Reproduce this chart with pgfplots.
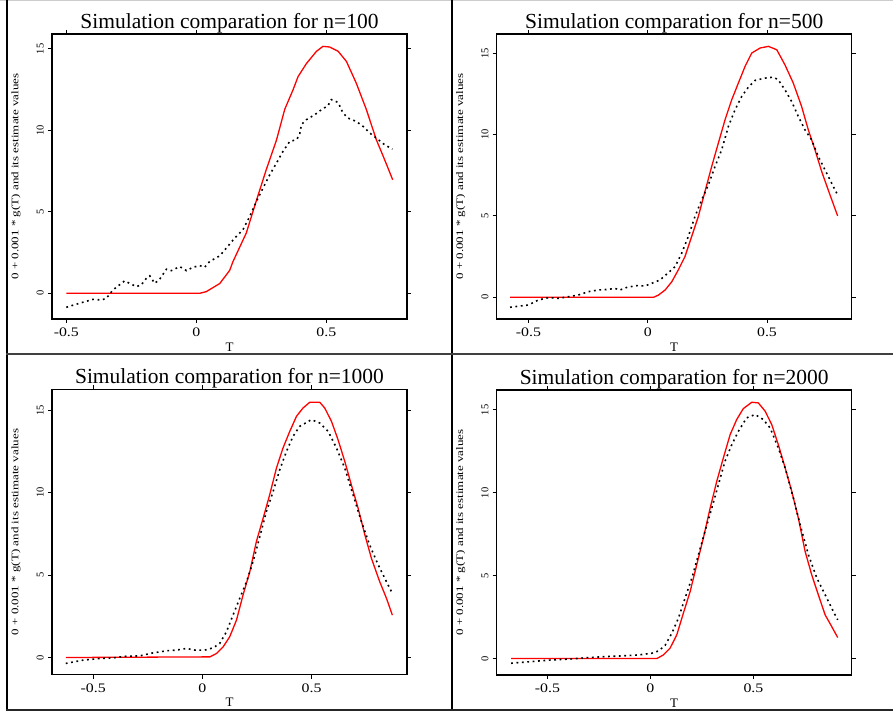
\documentclass[border=0pt]{standalone}
\usepackage{fontspec}
\setmainfont{Liberation Serif}
\newfontfamily\xtickfont[FakeStretch=1.22]{Liberation Serif}
\newfontfamily\ylabfont[FakeStretch=1.3]{Liberation Serif}
\usepackage{pgfplots}
\pgfplotsset{compat=1.18}

\pgfplotsset{
  rplot/.style={
    scale only axis, width=355bp, height=285bp,
    axis line style={line width=1.4bp},
    every tick/.style={black, line width=1bp},
    tick align=outside, major tick length=4bp,
    xtick pos=both, ytick pos=both,
    xticklabel pos=bottom, yticklabel pos=left,
    xtick={-0.5,0,0.5}, xticklabels={{-0.5},{0},{0.5}},
    ytick={0,5,10,15}, yticklabels={0,5,10,15},
    xticklabel style={font=\xtickfont\fontsize{13bp}{13bp}\selectfont, anchor=north, inner sep=0pt},
    yticklabel style={font=\fontsize{10.5bp}{10.5bp}\selectfont, rotate=90, anchor=south, inner sep=0pt},
    xticklabel shift=5bp, yticklabel shift=4bp,
    every axis title shift=0pt,
    title style={at={(axis description cs:0.5,1.02)}, anchor=base, yshift=0pt, inner sep=0pt, font=\fontsize{21.5bp}{21.5bp}\selectfont},
    xlabel={T},
    xlabel style={at={(axis description cs:0.5,-0.1123)}, anchor=base, font=\fontsize{13bp}{13bp}\selectfont},
    ylabel={0 + 0.001 * g(T) and its estimate values},
    ylabel style={at={(axis description cs:-0.0944,0.5)}, rotate=0, anchor=base, font=\ylabfont\fontsize{10bp}{10bp}\selectfont},
  },
  truth/.style={red, line width=1.3bp},
  est/.style={black, line width=1.6bp, dash pattern=on 1.8bp off 3.6bp},
}

\begin{document}
\begin{tikzpicture}
\useasboundingbox (0,0) rectangle (893bp,713bp);
% frame lines
\draw[black!20, line width=1bp] (0,712.5bp) -- (893bp,712.5bp);
\draw[black, line width=2bp] (7bp,713bp) -- (7bp,3bp);
\draw[black, line width=2bp] (452bp,713bp) -- (452bp,3bp);
\draw[black!75, line width=2bp] (6bp,358.5bp) -- (893bp,358.5bp);
\draw[black!85, line width=2bp] (6bp,3bp) -- (893bp,3bp);

% n=100
\begin{axis}[rplot, at={(52bp,394bp)}, anchor=south west,
  xmin=-0.555, xmax=0.810, ymin=-1.578, ymax=15.92,
  title={Simulation comparation for n=100}]
\addplot[truth] coordinates {
(-0.5,0)(0.013,0)(0.038,0.1)(0.09,0.6)(0.128,1.4)(0.141,1.95)(0.192,3.7)(0.231,5.7)
(0.269,7.6)(0.308,9.4)(0.340,11.3)(0.372,12.5)(0.391,13.3)(0.423,14.1)(0.462,14.86)
(0.487,15.16)(0.513,15.12)(0.545,14.86)(0.577,14.24)(0.615,12.9)(0.654,11.27)
(0.692,9.43)(0.724,8.2)(0.755,6.97)};
\addplot[est] coordinates {
(-0.5,-0.86)(-0.449,-0.61)(-0.397,-0.37)(-0.365,-0.41)(-0.346,-0.31)(-0.321,0.2)
(-0.301,0.45)(-0.276,0.76)(-0.256,0.61)(-0.231,0.41)(-0.212,0.51)(-0.192,0.92)
(-0.179,1.07)(-0.160,0.61)(-0.141,0.86)(-0.115,1.48)(-0.096,1.39)(-0.064,1.64)
(-0.038,1.39)(-0.013,1.6)(0.013,1.7)(0.032,1.6)(0.051,1.95)(0.090,2.3)(0.115,2.77)
(0.147,3.38)(0.179,3.9)(0.205,4.71)(0.231,5.64)(0.256,6.45)(0.282,7.27)(0.308,7.99)
(0.333,8.71)(0.359,9.32)(0.385,9.43)(0.397,9.73)(0.404,10.35)(0.423,10.66)
(0.455,10.96)(0.481,11.27)(0.506,11.52)(0.519,11.89)(0.545,11.72)(0.564,11.07)
(0.583,10.76)(0.615,10.55)(0.641,10.25)(0.667,9.84)(0.692,9.53)(0.724,9.12)(0.754,8.85)};
\end{axis}

% n=500
\begin{axis}[rplot, at={(496.7bp,394bp)}, anchor=south west,
  xmin=-0.633, xmax=0.855, ymin=-1.33, ymax=16.17,
  title={Simulation comparation for n=500}]
\addplot[truth] coordinates {
(-0.577,0)(0.024,0)(0.045,0.14)(0.073,0.45)(0.101,0.96)(0.128,1.68)(0.156,2.5)
(0.184,3.73)(0.212,4.96)(0.240,6.5)(0.268,8.03)(0.296,9.47)(0.324,10.9)(0.352,12.13)
(0.380,13.16)(0.408,14.18)(0.436,15.0)(0.471,15.31)(0.506,15.41)(0.541,15.2)
(0.575,14.28)(0.610,13.16)(0.645,11.72)(0.673,10.29)(0.701,9.06)(0.729,7.73)
(0.764,6.29)(0.796,5.0)};
\addplot[est] coordinates {
(-0.577,-0.61)(-0.5,-0.47)(-0.458,-0.16)(-0.416,-0.02)(-0.374,-0.06)(-0.332,0.04)
(-0.291,0.14)(-0.249,0.35)(-0.207,0.45)(-0.165,0.49)(-0.137,0.55)(-0.116,0.45)
(-0.088,0.61)(-0.046,0.72)(-0.011,0.7)(0.017,0.86)(0.052,1.07)(0.087,1.52)
(0.115,1.89)(0.142,2.7)(0.170,3.73)(0.198,4.96)(0.226,5.98)(0.254,6.9)(0.282,8.03)
(0.310,9.06)(0.338,10.49)(0.366,11.52)(0.394,12.34)(0.422,12.91)(0.450,13.32)
(0.492,13.46)(0.527,13.52)(0.547,13.36)(0.575,12.75)(0.603,12.03)(0.631,11.11)
(0.659,10.29)(0.687,9.67)(0.715,8.65)(0.750,7.62)(0.785,6.6)(0.796,6.29)};
\end{axis}

% n=1000
\begin{axis}[rplot, at={(52bp,38.5bp)}, anchor=south west,
  xmin=-0.689, xmax=0.937, ymin=-1.03, ymax=16.26,
  title={Simulation comparation for n=1000}]
\addplot[truth] coordinates {
(-0.626,0)(0.034,0.04)(0.064,0.24)(0.095,0.65)(0.125,1.26)(0.156,2.27)(0.186,3.79)
(0.217,5.21)(0.247,7.03)(0.278,8.45)(0.308,9.87)(0.339,11.49)(0.369,12.71)
(0.400,13.72)(0.431,14.64)(0.461,15.14)(0.492,15.49)(0.537,15.49)(0.560,15.14)
(0.591,14.33)(0.621,13.22)(0.652,11.9)(0.682,10.48)(0.713,9.06)(0.744,7.44)
(0.774,6.02)(0.812,4.6)(0.843,3.59)(0.870,2.57)};
\addplot[est] coordinates {
(-0.626,-0.36)(-0.547,-0.16)(-0.470,-0.06)(-0.409,-0.02)(-0.348,0.08)(-0.287,0.1)
(-0.226,0.28)(-0.165,0.41)(-0.119,0.45)(-0.073,0.55)(-0.035,0.45)(0.011,0.45)
(0.049,0.59)(0.079,0.85)(0.110,1.56)(0.140,2.57)(0.171,3.59)(0.202,4.6)(0.232,5.82)
(0.263,7.34)(0.293,8.86)(0.324,10.08)(0.354,11.39)(0.385,12.51)(0.415,13.42)
(0.446,14.03)(0.499,14.43)(0.537,14.23)(0.576,13.72)(0.614,12.71)(0.652,11.49)
(0.690,9.87)(0.728,8.25)(0.766,6.83)(0.805,5.62)(0.843,4.6)(0.866,3.99)};
\end{axis}

% n=2000
\begin{axis}[rplot, at={(496.7bp,38bp)}, anchor=south west,
  xmin=-0.746, xmax=0.977, ymin=-0.99, ymax=16.2,
  title={Simulation comparation for n=2000}]
\addplot[truth] coordinates {
(-0.676,0)(0.031,0)(0.063,0.22)(0.095,0.62)(0.128,1.43)(0.160,2.74)(0.193,4.05)
(0.225,5.66)(0.257,7.27)(0.290,9.08)(0.322,10.69)(0.354,12.1)(0.387,13.51)
(0.419,14.42)(0.451,15.08)(0.492,15.46)(0.524,15.42)(0.557,14.92)(0.589,14.11)
(0.621,12.9)(0.654,11.5)(0.686,10.09)(0.718,8.48)(0.751,6.46)(0.783,5.05)
(0.815,3.85)(0.848,2.64)(0.880,1.93)(0.909,1.27)};
\addplot[est] coordinates {
(-0.676,-0.28)(-0.576,-0.18)(-0.479,-0.08)(-0.382,-0.02)(-0.301,0.06)(-0.220,0.12)
(-0.139,0.16)(-0.058,0.22)(0.006,0.32)(0.039,0.46)(0.071,0.79)(0.104,1.53)
(0.136,2.44)(0.168,3.64)(0.201,4.85)(0.233,6.26)(0.265,7.67)(0.298,9.08)
(0.330,10.49)(0.362,11.9)(0.395,12.9)(0.427,13.71)(0.467,14.52)(0.508,14.72)
(0.548,14.42)(0.581,13.91)(0.621,12.7)(0.654,11.5)(0.694,9.68)(0.727,8.07)
(0.767,6.26)(0.808,4.85)(0.848,3.85)(0.880,3.04)(0.909,2.34)};
\end{axis}
\end{tikzpicture}
\end{document}
